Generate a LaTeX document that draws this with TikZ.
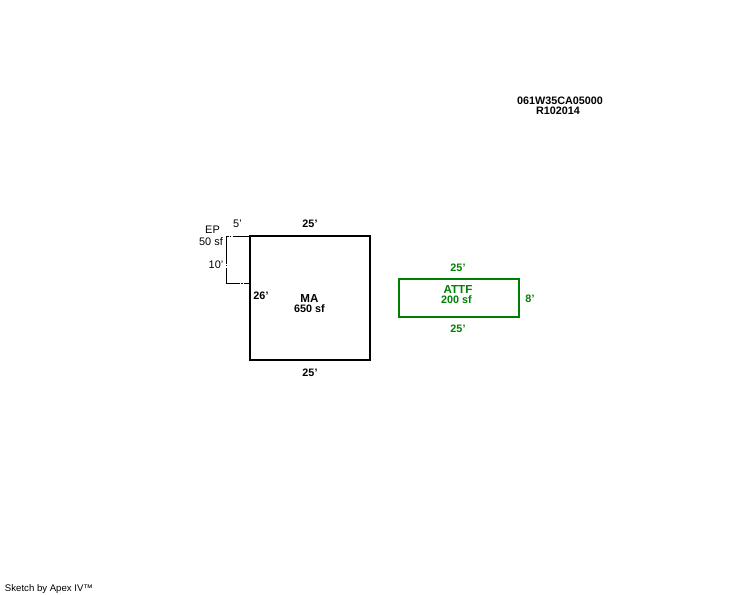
\documentclass[tikz,border=0pt]{standalone}
\usepackage{fontspec}
\setmainfont{Liberation Sans}
\definecolor{attf}{RGB}{0,128,0}
\tikzset{
  px/.style={x=0.75pt,y=-0.75pt},
  lbl/.style={inner sep=0pt,outer sep=0pt,align=center,font=\fontsize{8.2pt}{8.2pt}\selectfont},
  blbl/.style={lbl,font=\fontsize{8.1pt}{8.1pt}\selectfont\bfseries},
  tlbl/.style={lbl,font=\fontsize{8.7pt}{8.7pt}\selectfont\bfseries},
  glbl/.style={blbl,text=attf},
  gtlbl/.style={tlbl,text=attf},
  wall/.style={line width=1.5pt,line join=miter},
  thin wall/.style={line width=0.75pt,dash pattern=on 22pt off 1pt on 1pt off 1pt,dash phase=9pt}
}
\begin{document}
\begin{tikzpicture}[px]
\useasboundingbox (0,0) rectangle (744,595);
\fill[white] (0,0) rectangle (744,595);
\draw[thin wall] (250,236.5) -- (226.5,236.5) -- (226.5,283.5) -- (250,283.5);
\draw[wall] (250,236) rectangle (370,360);
\draw[wall,attf] (399,279) rectangle (519,317);
\node[blbl] (code) at (560,100.5) {061W35CA05000};
\node[blbl] (ref) at (558,110.5) {R102014};
\node[lbl] (ep) at (212.5,229.5) {EP};
\node[lbl] (epa) at (211,241.5) {50 sf};
\node[lbl] (five) at (237.5,223.5) {5'};
\node[lbl] (ten) at (216,264.5) {10'};
\node[blbl] (mt) at (310,223.5) {25'};
\node[blbl] (ml) at (261,295.5) {26'};
\node[blbl] (mb) at (310,372.5) {25'};
\node[tlbl] (ma) at (309.5,298.5) {MA};
\node[blbl] (maa) at (309.5,308.5) {650 sf};
\node[glbl] (at) at (458,267.5) {25'};
\node[glbl] (ab) at (458,328.5) {25'};
\node[glbl] (ar) at (530,298.5) {8'};
\node[gtlbl] (attf) at (458,289.5) {ATTF};
\node[glbl] (attfa) at (456.5,299.5) {200 sf};
\node[lbl,anchor=west,font=\fontsize{7.2pt}{7.2pt}\selectfont] (sk) at (5,589.5) {Sketch by Apex IV™};
\end{tikzpicture}
\end{document}
